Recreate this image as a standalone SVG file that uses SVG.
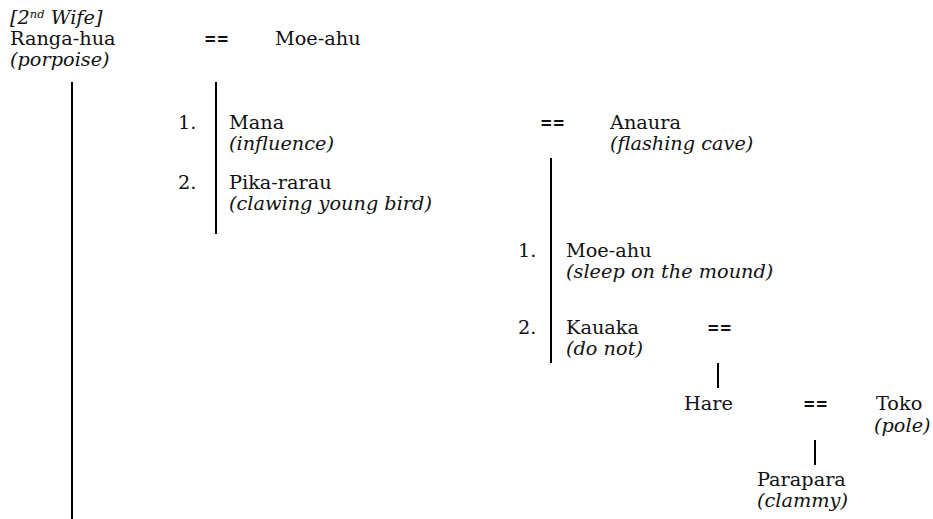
<svg xmlns="http://www.w3.org/2000/svg" width="933" height="519" viewBox="0 0 933 519">
<style>
text{font-family:"DejaVu Serif",serif;font-size:19.3px;fill:#111}
.i{font-style:italic}
.eq{font-weight:bold}
line{stroke:#000;stroke-width:2}
</style>
<rect width="933" height="519" fill="#fff"/>
<g id="connectors">
<line x1="72" y1="82" x2="72" y2="519"/>
<line x1="216" y1="82" x2="216" y2="234"/>
<line x1="551" y1="158" x2="551" y2="363"/>
<line x1="718" y1="363" x2="718" y2="388"/>
<line x1="815" y1="440" x2="815" y2="465"/>
</g>
<g id="ranga-hua">
<text class="i" x="10" y="24">[2<tspan font-size="11.5" dy="-6">nd</tspan><tspan dy="6"> Wife]</tspan></text>
<text x="10" y="45">Ranga-hua</text>
<text class="i" x="10" y="66">(porpoise)</text>
</g>
<g id="m1"><text class="eq" x="204" y="45" textLength="25" lengthAdjust="spacingAndGlyphs">==</text></g>
<g id="moe-ahu"><text x="275" y="45">Moe-ahu</text></g>
<g id="mana">
<text x="178" y="129">1.</text>
<text x="229" y="129">Mana</text>
<text class="i" x="229" y="150">(influence)</text>
</g>
<g id="pika-rarau">
<text x="178" y="189">2.</text>
<text x="229" y="189">Pika-rarau</text>
<text class="i" x="229" y="210">(clawing young bird)</text>
</g>
<g id="m2"><text class="eq" x="540" y="129" textLength="25" lengthAdjust="spacingAndGlyphs">==</text></g>
<g id="anaura">
<text x="610" y="129">Anaura</text>
<text class="i" x="610" y="150">(flashing cave)</text>
</g>
<g id="moe-ahu-2">
<text x="518" y="257">1.</text>
<text x="566" y="257">Moe-ahu</text>
<text class="i" x="566" y="278">(sleep on the mound)</text>
</g>
<g id="kauaka">
<text x="518" y="334">2.</text>
<text x="566" y="334">Kauaka</text>
<text class="i" x="566" y="355">(do not)</text>
</g>
<g id="m3"><text class="eq" x="707" y="334" textLength="25" lengthAdjust="spacingAndGlyphs">==</text></g>
<g id="hare"><text x="684" y="410">Hare</text></g>
<g id="m4"><text class="eq" x="803" y="410" textLength="25" lengthAdjust="spacingAndGlyphs">==</text></g>
<g id="toko">
<text x="876" y="410">Toko</text>
<text class="i" x="874" y="432">(pole)</text>
</g>
<g id="parapara">
<text x="757" y="486">Parapara</text>
<text class="i" x="757" y="507">(clammy)</text>
</g>
</svg>
